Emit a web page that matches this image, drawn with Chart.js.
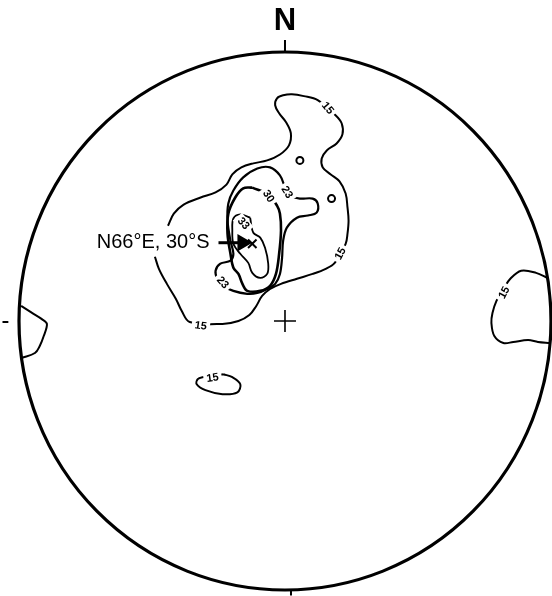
<!DOCTYPE html>
<html>
<head>
<meta charset="utf-8">
<script src="https://cdn.jsdelivr.net/npm/chart.js@4.4.1/dist/chart.umd.min.js"></script>
<style>
  html, body { margin: 0; padding: 0; background: #fff; overflow: hidden; }
  #wrap { position: relative; width: 552px; height: 596px; }
</style>
</head>
<body>
<div id="wrap"><canvas id="net"></canvas></div>
<script>
// stereonet coordinates: x = east, y = north, net radius = 1
let c15main = [[-0.440,0.354],[-0.418,0.399],[-0.381,0.433],[-0.317,0.459],[-0.261,0.478],[-0.220,0.507],
  [-0.198,0.545],[-0.164,0.571],[-0.119,0.586],[-0.067,0.597],[-0.019,0.619],[0.015,0.653],[0.022,0.698],
  [0.004,0.739],[-0.022,0.772],[-0.037,0.802],[-0.030,0.828],[-0.007,0.839],[0.026,0.843],[0.071,0.836],
  [0.123,0.821],[0.190,0.765],[0.213,0.735],[0.216,0.694],[0.194,0.660],[0.157,0.634],[0.138,0.604],
  [0.142,0.571],[0.172,0.545],[0.205,0.519],[0.228,0.474],[0.235,0.422],[0.239,0.373],[0.235,0.325],
  [0.228,0.287],[0.187,0.216],[0.153,0.194],[0.104,0.175],[0.045,0.157],[-0.015,0.138],[-0.056,0.119],
  [-0.086,0.093],[-0.108,0.056],[-0.134,0.022],[-0.175,0.000],[-0.235,-0.011],[-0.358,-0.004],
  [-0.388,0.037],[-0.410,0.082],[-0.444,0.138],[-0.474,0.194],[-0.489,0.239]];
let c15east = [[0.988,0.160],[0.944,0.179],[0.888,0.187],[0.847,0.157],[0.821,0.119],[0.795,0.075],
  [0.780,0.030],[0.776,-0.007],[0.787,-0.056],[0.821,-0.082],[0.858,-0.078],[0.914,-0.071],[0.951,-0.078],[0.996,-0.082]];
let c15west = [[-0.992,0.056],[-0.951,0.030],[-0.914,0.007],[-0.895,-0.011],[-0.907,-0.056],[-0.922,-0.093],
  [-0.940,-0.119],[-0.990,-0.138]];
let c15small = [[-0.231,-0.198],[-0.198,-0.209],[-0.168,-0.235],[-0.179,-0.265],[-0.235,-0.272],[-0.299,-0.257],
  [-0.332,-0.235],[-0.328,-0.216],[-0.310,-0.209],[-0.231,-0.198]];
let c23 = [[0.000,0.496],[0.019,0.466],[0.056,0.455],[0.104,0.455],[0.123,0.437],[0.119,0.403],[0.086,0.392],
  [0.045,0.384],[0.007,0.347],[-0.007,0.298],[-0.011,0.235],[-0.019,0.175],[-0.037,0.138],[-0.067,0.119],
  [-0.104,0.104],[-0.142,0.101],[-0.194,0.112],[-0.231,0.131],[-0.254,0.157],[-0.261,0.187],[-0.243,0.213],
  [-0.205,0.224],[-0.194,0.250],[-0.205,0.298],[-0.216,0.373],[-0.213,0.437],[-0.194,0.485],[-0.157,0.534],
  [-0.104,0.567],[-0.056,0.571],[-0.019,0.541],[0.000,0.496]];
let c30 = [[-0.123,0.496],[-0.063,0.470],[-0.030,0.429],[-0.019,0.399],[-0.015,0.336],[-0.022,0.250],
  [-0.034,0.175],[-0.056,0.131],[-0.093,0.112],[-0.142,0.112],[-0.160,0.138],[-0.175,0.175],[-0.194,0.198],
  [-0.205,0.250],[-0.216,0.325],[-0.213,0.399],[-0.187,0.459],[-0.157,0.493],[-0.123,0.496]];
let c33 = [[-0.131,0.384],[-0.119,0.328],[-0.093,0.310],[-0.075,0.272],[-0.063,0.213],[-0.067,0.175],
  [-0.093,0.160],[-0.123,0.179],[-0.138,0.216],[-0.168,0.250],[-0.194,0.287],[-0.198,0.336],[-0.194,0.381],
  [-0.168,0.396],[-0.131,0.384]];
let zeroMarks = [[0.056,0.597],[0.175,0.455]];
let poleMark = [[-0.123,0.287]];
let poleArrow = [[-0.250,0.291],[-0.160,0.291]];
// contour labels: text, x, y, angle (deg)
let contourLabels = [
  ['15', 0.160, 0.791, 50], ['15', 0.209, 0.250, -62], ['15', -0.317, -0.019, 8],
  ['15', 0.825, 0.105, -62], ['15', -0.272, -0.212, -8],
  ['23', 0.007, 0.478, 58], ['23', -0.235, 0.142, 48],
  ['30', -0.063, 0.463, 58], ['33', -0.157, 0.362, 50]
];
let poleText = 'N66\u00b0E, 30\u00b0S';
let northText = 'N';

let pts = a => a.map(p => ({x: p[0], y: p[1]}));

let line = (d, w) => ({
  data: pts(d), showLine: true, borderColor: '#000', borderWidth: w,
  pointRadius: 0, tension: 0.35, fill: false, clip: false
});

let netPlugin = {
  id: 'net',
  beforeDatasetsDraw(chart) {
    let ctx = chart.ctx, sx = chart.scales.x, sy = chart.scales.y;
    let cx = sx.getPixelForValue(0), cy = sy.getPixelForValue(0);
    let rx = sx.getPixelForValue(1) - cx, ry = cy - sy.getPixelForValue(1);
    ctx.save();
    ctx.strokeStyle = '#000';
    ctx.lineWidth = 3.2;
    ctx.beginPath();
    ctx.ellipse(cx, cy, rx, ry, 0, 0, Math.PI * 2);
    ctx.stroke();
    ctx.lineWidth = 2;
    ctx.beginPath();
    ctx.moveTo(cx, sy.getPixelForValue(1)); ctx.lineTo(cx, sy.getPixelForValue(1.045));
    ctx.moveTo(cx + 6, sy.getPixelForValue(-1)); ctx.lineTo(cx + 6, sy.getPixelForValue(-1.02));
    ctx.moveTo(sx.getPixelForValue(-1.062), cy + 1); ctx.lineTo(sx.getPixelForValue(-1.04), cy + 1);
    ctx.stroke();
    ctx.fillStyle = '#000';
    ctx.font = 'bold 31px "Liberation Sans Narrow", "Liberation Sans", Arial, sans-serif';
    ctx.textAlign = 'center';
    ctx.textBaseline = 'middle';
    ctx.fillText(northText, cx, sy.getPixelForValue(1.113));
    ctx.restore();
  },
  afterDatasetsDraw(chart) {
    let ctx = chart.ctx, sx = chart.scales.x, sy = chart.scales.y;
    ctx.save();
    ctx.font = 'bold 11px "Liberation Sans", Arial, sans-serif';
    ctx.textAlign = 'center';
    ctx.textBaseline = 'middle';
    contourLabels.forEach(l => {
      let w = ctx.measureText(l[0]).width;
      ctx.save();
      ctx.translate(sx.getPixelForValue(l[1]), sy.getPixelForValue(l[2]));
      ctx.rotate(l[3] * Math.PI / 180);
      ctx.fillStyle = '#fff';
      ctx.fillRect(-w / 2 - 3, -6, w + 6, 12);
      ctx.fillStyle = '#000';
      ctx.fillText(l[0], 0, 0);
      ctx.restore();
    });
    ctx.font = '20px "Liberation Sans", Arial, sans-serif';
    ctx.textAlign = 'right';
    let tx = sx.getPixelForValue(poleArrow[0][0]) - 9, ty = sy.getPixelForValue(poleArrow[0][1]);
    let tw = ctx.measureText(poleText).width;
    ctx.fillStyle = '#fff';
    ctx.fillRect(tx - tw - 4, ty - 11, tw + 8, 22);
    ctx.fillStyle = '#000';
    ctx.fillText(poleText, tx, ty);
    ctx.restore();
  }
};

new Chart(document.getElementById('net'), {
  type: 'scatter',
  data: {
    datasets: [
      line(c15main, 2), line(c15east, 2), line(c15west, 2), line(c15small, 2),
      line(c23, 2.2), line(c30, 2.6), line(c33, 1.8),
      { data: pts(zeroMarks), pointStyle: 'circle', pointRadius: 3.5, borderWidth: 2,
        borderColor: '#000', backgroundColor: '#fff', clip: false },
      { data: pts(poleMark), pointStyle: 'crossRot', pointRadius: 6, borderWidth: 2,
        borderColor: '#000', clip: false },
      { data: pts([[0, 0]]), pointStyle: 'cross', pointRadius: 11, borderWidth: 1.6,
        borderColor: '#000', clip: false },
      { data: pts(poleArrow), showLine: true, borderColor: '#000', borderWidth: 3,
        pointStyle: 'triangle', rotation: 90, pointRadius: [0, 7], backgroundColor: '#000', clip: false }
    ]
  },
  options: {
    responsive: true,
    maintainAspectRatio: false,
    animation: false,
    devicePixelRatio: 1,
    layout: { padding: 0, autoPadding: false },
    scales: {
      x: { type: 'linear', min: -1.0714, max: 1.0038, display: false },
      y: { type: 'linear', min: -1.0223, max: 1.1933, display: false }
    },
    plugins: { legend: { display: false }, tooltip: { enabled: false } }
  },
  plugins: [netPlugin]
});
</script>
</body>
</html>
